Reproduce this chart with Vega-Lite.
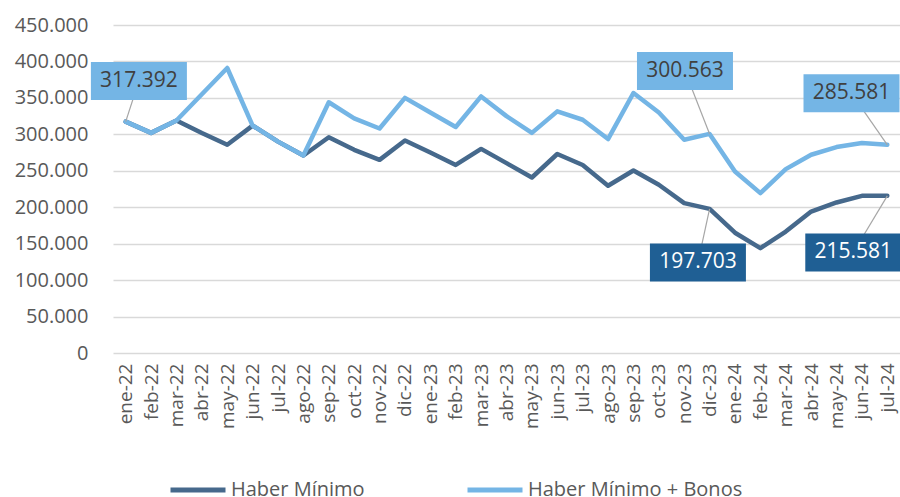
{
  "$schema": "https://vega.github.io/schema/vega-lite/v6.json",
  "width": 787,
  "height": 328,
  "autosize": "none",
  "padding": {"left": 113, "top": 25, "right": 0, "bottom": 144},
  "background": "white",
  "config": {
    "locale": {"number": {"decimal": ",", "thousands": ".", "grouping": [3], "currency": ["$", ""]}},
    "view": {"stroke": null},
    "font": "Open Sans"
  },
  "datasets": {
    "serie": [
      {"mes": "ene-22", "n": 0, "serie": "Haber Mínimo", "valor": 317392},
      {"mes": "feb-22", "n": 1, "serie": "Haber Mínimo", "valor": 302000},
      {"mes": "mar-22", "n": 2, "serie": "Haber Mínimo", "valor": 319000},
      {"mes": "abr-22", "n": 3, "serie": "Haber Mínimo", "valor": 301800},
      {"mes": "may-22", "n": 4, "serie": "Haber Mínimo", "valor": 285700},
      {"mes": "jun-22", "n": 5, "serie": "Haber Mínimo", "valor": 312000},
      {"mes": "jul-22", "n": 6, "serie": "Haber Mínimo", "valor": 290000},
      {"mes": "ago-22", "n": 7, "serie": "Haber Mínimo", "valor": 271000},
      {"mes": "sep-22", "n": 8, "serie": "Haber Mínimo", "valor": 296000},
      {"mes": "oct-22", "n": 9, "serie": "Haber Mínimo", "valor": 278800},
      {"mes": "nov-22", "n": 10, "serie": "Haber Mínimo", "valor": 265000},
      {"mes": "dic-22", "n": 11, "serie": "Haber Mínimo", "valor": 291600},
      {"mes": "ene-23", "n": 12, "serie": "Haber Mínimo", "valor": 275000},
      {"mes": "feb-23", "n": 13, "serie": "Haber Mínimo", "valor": 258000},
      {"mes": "mar-23", "n": 14, "serie": "Haber Mínimo", "valor": 280000},
      {"mes": "abr-23", "n": 15, "serie": "Haber Mínimo", "valor": 260500},
      {"mes": "may-23", "n": 16, "serie": "Haber Mínimo", "valor": 240800},
      {"mes": "jun-23", "n": 17, "serie": "Haber Mínimo", "valor": 273000},
      {"mes": "jul-23", "n": 18, "serie": "Haber Mínimo", "valor": 258000},
      {"mes": "ago-23", "n": 19, "serie": "Haber Mínimo", "valor": 229400},
      {"mes": "sep-23", "n": 20, "serie": "Haber Mínimo", "valor": 250400},
      {"mes": "oct-23", "n": 21, "serie": "Haber Mínimo", "valor": 230800},
      {"mes": "nov-23", "n": 22, "serie": "Haber Mínimo", "valor": 205600},
      {"mes": "dic-23", "n": 23, "serie": "Haber Mínimo", "valor": 197703},
      {"mes": "ene-24", "n": 24, "serie": "Haber Mínimo", "valor": 165000},
      {"mes": "feb-24", "n": 25, "serie": "Haber Mínimo", "valor": 143800},
      {"mes": "mar-24", "n": 26, "serie": "Haber Mínimo", "valor": 166600},
      {"mes": "abr-24", "n": 27, "serie": "Haber Mínimo", "valor": 194000},
      {"mes": "may-24", "n": 28, "serie": "Haber Mínimo", "valor": 206500},
      {"mes": "jun-24", "n": 29, "serie": "Haber Mínimo", "valor": 215600},
      {"mes": "jul-24", "n": 30, "serie": "Haber Mínimo", "valor": 215581},
      {"mes": "ene-22", "n": 0, "serie": "Haber Mínimo + Bonos", "valor": 317392},
      {"mes": "feb-22", "n": 1, "serie": "Haber Mínimo + Bonos", "valor": 302000},
      {"mes": "mar-22", "n": 2, "serie": "Haber Mínimo + Bonos", "valor": 319000},
      {"mes": "abr-22", "n": 3, "serie": "Haber Mínimo + Bonos", "valor": 355000},
      {"mes": "may-22", "n": 4, "serie": "Haber Mínimo + Bonos", "valor": 391000},
      {"mes": "jun-22", "n": 5, "serie": "Haber Mínimo + Bonos", "valor": 312000},
      {"mes": "jul-22", "n": 6, "serie": "Haber Mínimo + Bonos", "valor": 290000},
      {"mes": "ago-22", "n": 7, "serie": "Haber Mínimo + Bonos", "valor": 271000},
      {"mes": "sep-22", "n": 8, "serie": "Haber Mínimo + Bonos", "valor": 344000},
      {"mes": "oct-22", "n": 9, "serie": "Haber Mínimo + Bonos", "valor": 322000},
      {"mes": "nov-22", "n": 10, "serie": "Haber Mínimo + Bonos", "valor": 308000},
      {"mes": "dic-22", "n": 11, "serie": "Haber Mínimo + Bonos", "valor": 350000},
      {"mes": "ene-23", "n": 12, "serie": "Haber Mínimo + Bonos", "valor": 330000},
      {"mes": "feb-23", "n": 13, "serie": "Haber Mínimo + Bonos", "valor": 310000},
      {"mes": "mar-23", "n": 14, "serie": "Haber Mínimo + Bonos", "valor": 352000},
      {"mes": "abr-23", "n": 15, "serie": "Haber Mínimo + Bonos", "valor": 325000},
      {"mes": "may-23", "n": 16, "serie": "Haber Mínimo + Bonos", "valor": 302000},
      {"mes": "jun-23", "n": 17, "serie": "Haber Mínimo + Bonos", "valor": 331500},
      {"mes": "jul-23", "n": 18, "serie": "Haber Mínimo + Bonos", "valor": 320000},
      {"mes": "ago-23", "n": 19, "serie": "Haber Mínimo + Bonos", "valor": 293500},
      {"mes": "sep-23", "n": 20, "serie": "Haber Mínimo + Bonos", "valor": 356700},
      {"mes": "oct-23", "n": 21, "serie": "Haber Mínimo + Bonos", "valor": 330000},
      {"mes": "nov-23", "n": 22, "serie": "Haber Mínimo + Bonos", "valor": 292600},
      {"mes": "dic-23", "n": 23, "serie": "Haber Mínimo + Bonos", "valor": 300563},
      {"mes": "ene-24", "n": 24, "serie": "Haber Mínimo + Bonos", "valor": 249000},
      {"mes": "feb-24", "n": 25, "serie": "Haber Mínimo + Bonos", "valor": 219300},
      {"mes": "mar-24", "n": 26, "serie": "Haber Mínimo + Bonos", "valor": 252300},
      {"mes": "abr-24", "n": 27, "serie": "Haber Mínimo + Bonos", "valor": 272000},
      {"mes": "may-24", "n": 28, "serie": "Haber Mínimo + Bonos", "valor": 282500},
      {"mes": "jun-24", "n": 29, "serie": "Haber Mínimo + Bonos", "valor": 288000},
      {"mes": "jul-24", "n": 30, "serie": "Haber Mínimo + Bonos", "valor": 285581}
    ],
    "etiquetas": [
      {"serie": "Haber Mínimo + Bonos", "n": 0, "valor": 317392, "texto": "317.392", "ln": 0.52, "lv": 373200},
      {"serie": "Haber Mínimo + Bonos", "n": 23, "valor": 300563, "texto": "300.563", "ln": 22.03, "lv": 386900},
      {"serie": "Haber Mínimo + Bonos", "n": 30, "valor": 285581, "texto": "285.581", "ln": 28.59, "lv": 356300},
      {"serie": "Haber Mínimo", "n": 23, "valor": 197703, "texto": "197.703", "ln": 22.54, "lv": 124200},
      {"serie": "Haber Mínimo", "n": 30, "valor": 215581, "texto": "215.581", "ln": 28.66, "lv": 137900}
    ]
  },
  "layer": [
    {
      "data": {"name": "serie"},
      "mark": {"type": "line", "strokeWidth": 4.5, "strokeJoin": "round", "strokeCap": "round"},
      "encoding": {
        "x": {
          "field": "n", "type": "quantitative",
          "scale": {"domain": [-0.5, 30.5], "nice": false, "zero": false},
          "axis": {
            "title": null,
            "values": [0,1,2,3,4,5,6,7,8,9,10,11,12,13,14,15,16,17,18,19,20,21,22,23,24,25,26,27,28,29,30],
            "labelExpr": "['ene-22','feb-22','mar-22','abr-22','may-22','jun-22','jul-22','ago-22','sep-22','oct-22','nov-22','dic-22','ene-23','feb-23','mar-23','abr-23','may-23','jun-23','jul-23','ago-23','sep-23','oct-23','nov-23','dic-23','ene-24','feb-24','mar-24','abr-24','may-24','jun-24','jul-24'][datum.value]",
            "labelAngle": -90, "labelFontSize": 19, "labelFont": "Open Sans", "labelColor": "#595959",
            "labelPadding": 10, "labelOverlap": false, "labelFlush": false, "labelBound": false,
            "grid": false, "ticks": false, "domain": false
          }
        },
        "y": {
          "field": "valor", "type": "quantitative",
          "scale": {"domain": [0, 450000], "nice": false},
          "axis": {
            "title": null,
            "values": [0, 50000, 100000, 150000, 200000, 250000, 300000, 350000, 400000, 450000],
            "format": ",.0f", "labelFontSize": 20, "labelFont": "Open Sans", "labelColor": "#595959",
            "labelPadding": 25, "labelOverlap": false, "labelFlush": false,
            "gridColor": "#D9D9D9", "gridWidth": 1.5, "ticks": false, "domain": false
          }
        },
        "color": {
          "field": "serie", "type": "nominal",
          "scale": {"domain": ["Haber Mínimo", "Haber Mínimo + Bonos"], "range": ["#46698C", "#74B5E5"]},
          "legend": {
            "title": null, "orient": "none", "legendX": 55, "legendY": 435,
            "direction": "horizontal", "symbolType": "stroke", "symbolSize": 3025, "symbolStrokeWidth": 5,
            "labelFontSize": 20, "labelFont": "Open Sans", "labelColor": "#595959", "labelLimit": 400,
            "labelOffset": 3, "columnPadding": 92, "padding": 0
          }
        }
      }
    },
    {
      "data": {"name": "etiquetas"},
      "mark": {"type": "rule", "color": "#A6A6A6", "strokeWidth": 1.2},
      "encoding": {
        "x": {
          "field": "ln", "type": "quantitative",
          "axis": {
            "title": null,
            "values": [0,1,2,3,4,5,6,7,8,9,10,11,12,13,14,15,16,17,18,19,20,21,22,23,24,25,26,27,28,29,30],
            "labelExpr": "['ene-22','feb-22','mar-22','abr-22','may-22','jun-22','jul-22','ago-22','sep-22','oct-22','nov-22','dic-22','ene-23','feb-23','mar-23','abr-23','may-23','jun-23','jul-23','ago-23','sep-23','oct-23','nov-23','dic-23','ene-24','feb-24','mar-24','abr-24','may-24','jun-24','jul-24'][datum.value]",
            "labelAngle": -90, "labelFontSize": 19, "labelFont": "Open Sans", "labelColor": "#595959",
            "labelPadding": 10, "labelOverlap": false, "labelFlush": false, "labelBound": false,
            "grid": false, "ticks": false, "domain": false
          }
        },
        "x2": {"field": "n"},
        "y": {
          "field": "lv", "type": "quantitative",
          "axis": {
            "title": null,
            "values": [0, 50000, 100000, 150000, 200000, 250000, 300000, 350000, 400000, 450000],
            "format": ",.0f", "labelFontSize": 20, "labelFont": "Open Sans", "labelColor": "#595959",
            "labelPadding": 25, "labelOverlap": false, "labelFlush": false,
            "gridColor": "#D9D9D9", "gridWidth": 1.5, "ticks": false, "domain": false
          }
        },
        "y2": {"field": "valor"}
      }
    },
    {
      "data": {"name": "etiquetas"},
      "mark": {"type": "point", "shape": "M-1,-0.396H1V0.396H-1Z", "size": 9216, "filled": true, "opacity": 1, "strokeWidth": 0},
      "encoding": {
        "x": {
          "field": "ln", "type": "quantitative",
          "axis": {
            "title": null,
            "values": [0,1,2,3,4,5,6,7,8,9,10,11,12,13,14,15,16,17,18,19,20,21,22,23,24,25,26,27,28,29,30],
            "labelExpr": "['ene-22','feb-22','mar-22','abr-22','may-22','jun-22','jul-22','ago-22','sep-22','oct-22','nov-22','dic-22','ene-23','feb-23','mar-23','abr-23','may-23','jun-23','jul-23','ago-23','sep-23','oct-23','nov-23','dic-23','ene-24','feb-24','mar-24','abr-24','may-24','jun-24','jul-24'][datum.value]",
            "labelAngle": -90, "labelFontSize": 19, "labelFont": "Open Sans", "labelColor": "#595959",
            "labelPadding": 10, "labelOverlap": false, "labelFlush": false, "labelBound": false,
            "grid": false, "ticks": false, "domain": false
          }
        },
        "y": {
          "field": "lv", "type": "quantitative",
          "axis": {
            "title": null,
            "values": [0, 50000, 100000, 150000, 200000, 250000, 300000, 350000, 400000, 450000],
            "format": ",.0f", "labelFontSize": 20, "labelFont": "Open Sans", "labelColor": "#595959",
            "labelPadding": 25, "labelOverlap": false, "labelFlush": false,
            "gridColor": "#D9D9D9", "gridWidth": 1.5, "ticks": false, "domain": false
          }
        },
        "fill": {"condition": {"test": "datum.serie === 'Haber Mínimo'", "value": "#1F5F94"}, "value": "#74B5E5"}
      }
    },
    {
      "data": {"name": "etiquetas"},
      "mark": {"type": "text", "fontSize": 21, "font": "Open Sans", "align": "center", "baseline": "middle"},
      "encoding": {
        "x": {
          "field": "ln", "type": "quantitative",
          "axis": {
            "title": null,
            "values": [0,1,2,3,4,5,6,7,8,9,10,11,12,13,14,15,16,17,18,19,20,21,22,23,24,25,26,27,28,29,30],
            "labelExpr": "['ene-22','feb-22','mar-22','abr-22','may-22','jun-22','jul-22','ago-22','sep-22','oct-22','nov-22','dic-22','ene-23','feb-23','mar-23','abr-23','may-23','jun-23','jul-23','ago-23','sep-23','oct-23','nov-23','dic-23','ene-24','feb-24','mar-24','abr-24','may-24','jun-24','jul-24'][datum.value]",
            "labelAngle": -90, "labelFontSize": 19, "labelFont": "Open Sans", "labelColor": "#595959",
            "labelPadding": 10, "labelOverlap": false, "labelFlush": false, "labelBound": false,
            "grid": false, "ticks": false, "domain": false
          }
        },
        "y": {
          "field": "lv", "type": "quantitative",
          "axis": {
            "title": null,
            "values": [0, 50000, 100000, 150000, 200000, 250000, 300000, 350000, 400000, 450000],
            "format": ",.0f", "labelFontSize": 20, "labelFont": "Open Sans", "labelColor": "#595959",
            "labelPadding": 25, "labelOverlap": false, "labelFlush": false,
            "gridColor": "#D9D9D9", "gridWidth": 1.5, "ticks": false, "domain": false
          }
        },
        "text": {"field": "texto"},
        "color": {"condition": {"test": "datum.serie === 'Haber Mínimo'", "value": "#FFFFFF"}, "value": "#404040"}
      }
    }
  ]
}
